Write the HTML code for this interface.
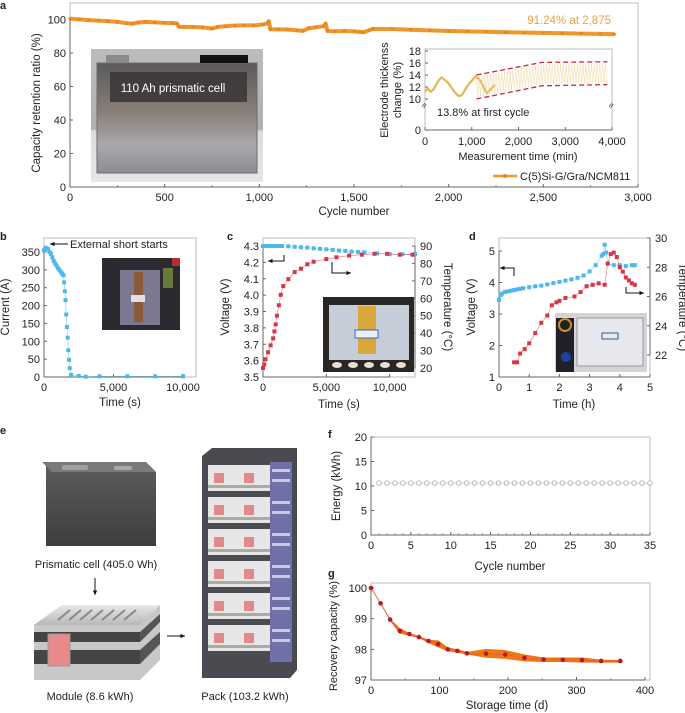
<!DOCTYPE html>
<html><head><meta charset="utf-8">
<style>
html,body{margin:0;padding:0;background:#fff;}
svg{display:block;font-family:"Liberation Sans",Arial,sans-serif;fill:#222;}
</style></head>
<body>
<svg id="fig" width="685" height="713" viewBox="0 0 685 713" xmlns="http://www.w3.org/2000/svg">
<defs>
<linearGradient id="cellBody" x1="0" y1="0" x2="0" y2="1">
<stop offset="0" stop-color="#5a5a5a"/><stop offset="0.45" stop-color="#8a7f78"/><stop offset="0.75" stop-color="#a9a9ad"/><stop offset="1" stop-color="#8e8e92"/></linearGradient>
<linearGradient id="photoBg" x1="0" y1="0" x2="0" y2="1">
<stop offset="0" stop-color="#bdbdbd"/><stop offset="0.6" stop-color="#b0b0b0"/><stop offset="0.62" stop-color="#dcdcdc"/><stop offset="1" stop-color="#e6e6e6"/></linearGradient>
<linearGradient id="darkCell" x1="0" y1="0" x2="0" y2="1">
<stop offset="0" stop-color="#5c5c5c"/><stop offset="1" stop-color="#3d3d3d"/></linearGradient>
<linearGradient id="modTop" x1="0" y1="0" x2="0" y2="1">
<stop offset="0" stop-color="#e8e8e8"/><stop offset="1" stop-color="#b8b8b8"/></linearGradient>
</defs>
</svg>
<script>
// ---------- DATA ----------
// panel a: capacity retention
const cycA = [0,50,100,150,200,250,300,330,360,400,450,500,540,565,575,600,650,700,750,780,820,870,920,970,1020,1045,1050,1058,1100,1150,1200,1230,1260,1300,1340,1350,1360,1400,1450,1500,1530,1550,1580,1600,1700,1800,1900,2000,2100,2200,2300,2400,2500,2600,2700,2800,2875];
const capA = [100.5,100.1,99.6,99.3,99.0,98.6,97.8,97.5,98.2,98.6,98.3,98.0,97.9,97.6,95.6,95.6,95.5,95.3,94.6,95.6,96.0,96.4,96.5,96.5,97.0,97.8,99.0,94.2,94.1,94.0,93.5,93.2,94.8,95.4,96.0,97.6,93.1,93.0,93.1,92.9,92.6,92.4,93.6,94.4,94.3,93.9,93.5,93.1,92.9,92.7,92.4,92.2,92.0,91.8,91.6,91.4,91.24];
const aXTicks = [0,500,1000,1500,2000,2500,3000];
const aXLabels = ["0","500","1,000","1,500","2,000","2,500","3,000"];
const aYTicks = [0,20,40,60,80,100];
// panel a inset: electrode thickness
const waveT = [0,60,120,180,240,300,360,420,480,540,600,660,720,780,840,900,960,1020,1080,1140,1200,1260,1320,1380,1440,1500];
const waveV = [11.2,11.8,11.2,11.6,12.4,13.2,13.6,13.2,12.8,12.2,11.5,10.9,10.5,10.6,11.3,12.1,12.7,13.2,13.8,13.4,12.8,11.9,11.0,11.4,11.9,12.4];
const envT = [1100,2500,3900];
const envHi = [14.0,16.1,16.2];
const envLo = [10.0,12.2,12.4];
const insTicksX = [0,1000,2000,3000,4000];
const insLabelsX = ["0","1,000","2,000","3,000","4,000"];
const insTicksY = [10,12,14,16,18];
// panel b: short circuit current
const bT = [0,100,200,300,400,500,600,700,800,900,1000,1100,1200,1300,1400,1450,1500,1550,1600,1650,1700,1750,1800,1850,1950,2500,3000,4000,6000,8000,10000];
const bI = [355,362,360,358,350,345,335,325,318,312,305,300,295,290,285,265,240,215,175,140,110,75,48,25,6,3,1,2,2,2,2];
const bYTicks = [0,50,100,150,200,250,300,350];
const bXTicks = [0,5000,10000];
const bXLabels = ["0","5,000","10,000"];
// panel c: voltage & temperature vs time
const cVT = [0,100,200,300,400,500,600,700,800,900,1000,1100,1200,1300,1400,1500,2000,2500,3000,3500,4000,4500,5000,5500,6000,6500,7000,7500,8000,9000,10000,11000,12000];
const cV = [4.300,4.300,4.300,4.300,4.300,4.300,4.300,4.300,4.300,4.300,4.300,4.300,4.300,4.300,4.300,4.300,4.298,4.295,4.292,4.290,4.286,4.283,4.280,4.276,4.272,4.270,4.266,4.264,4.262,4.255,4.250,4.250,4.250];
const cTT = [0,100,200,400,600,800,900,1000,1100,1250,1400,1600,2000,2500,3000,3500,4000,5000,5800,6800,7800,8800,9800,10800,11800];
const cTemp = [20,22,25,29,33,37,41,45,50,56,62,67,71,75,77,79.5,81,82.5,83.5,84.5,85,85.5,85.5,85,85];
const cVTicks = [3.5,3.6,3.7,3.8,3.9,4.0,4.1,4.2,4.3];
const cTTicks = [20,30,40,50,60,70,80,90];
const cXTicks = [0,5000,10000];
const cXLabels = ["0","5,000","10,000"];
// panel d: nail / overcharge test
const dVT = [0,0.05,0.1,0.2,0.3,0.4,0.5,0.6,0.7,0.8,1.0,1.2,1.4,1.6,1.8,2.0,2.2,2.4,2.6,2.8,3.0,3.2,3.4,3.45,3.5,3.55,3.6,3.8,4.0,4.2,4.4,4.5];
const dV = [3.45,3.6,3.65,3.7,3.72,3.74,3.76,3.78,3.8,3.82,3.85,3.88,3.9,3.94,3.98,4.02,4.06,4.1,4.15,4.22,4.35,4.55,4.85,4.9,5.2,4.95,4.6,4.55,4.55,4.52,4.55,4.55];
const dTT = [0.5,0.6,0.7,0.85,1.0,1.2,1.4,1.6,1.75,1.9,2.0,2.2,2.5,2.7,2.9,3.1,3.3,3.5,3.6,3.7,3.8,3.9,4.0,4.1,4.2,4.3,4.4,4.5];
const dTemp = [21.5,21.5,22.1,22.4,22.8,23.5,24.2,24.7,25.4,25.6,25.7,25.9,26.0,26.3,26.7,26.8,26.9,26.8,28.25,28.9,29.0,28.7,28.0,27.7,27.3,27.1,26.9,26.8];
const dVTicks = [1,2,3,4,5];
const dTTicks = [22,24,26,28,30];
const dXTicks = [0,1,2,3,4,5];
// panel f: pack energy
const fCycle = [1,2,3,4,5,6,7,8,9,10,11,12,13,14,15,16,17,18,19,20,21,22,23,24,25,26,27,28,29,30,31,32,33,34,35];
const fEnergy = [10.6,10.6,10.6,10.6,10.6,10.6,10.6,10.6,10.6,10.6,10.6,10.6,10.6,10.6,10.6,10.6,10.6,10.6,10.6,10.6,10.6,10.6,10.6,10.6,10.6,10.6,10.6,10.6,10.6,10.6,10.6,10.6,10.6,10.6,10.6];
const fYTicks = [0,5,10,15,20];
const fXTicks = [0,5,10,15,20,25,30,35];
// panel g: recovery capacity
const gDays = [0,14,28,42,56,70,84,98,112,126,140,168,196,224,252,280,308,336,364];
const gCap = [100,99.5,98.97,98.6,98.5,98.4,98.27,98.17,98.0,97.95,97.87,97.86,97.83,97.72,97.67,97.66,97.65,97.62,97.62];
const gHi = [100,99.5,98.97,98.68,98.52,98.42,98.3,98.28,98.05,97.99,97.9,98.0,97.96,97.82,97.72,97.72,97.72,97.65,97.64];
const gLo = [100,99.5,98.95,98.52,98.46,98.38,98.22,98.08,97.95,97.9,97.85,97.74,97.7,97.62,97.6,97.6,97.58,97.58,97.58];
const gYTicks = [97,98,99,100];
const gXTicks = [0,100,200,300,400];

// ---------- HELPERS ----------
const NS = "http://www.w3.org/2000/svg";
const svg = document.getElementById("fig");
function el(tag, attrs, parent){
  const e = document.createElementNS(NS, tag);
  for (const k in attrs) e.setAttribute(k, attrs[k]);
  (parent || svg).appendChild(e);
  return e;
}
function lin(d0,d1,r0,r1){ return v => r0 + (v-d0)/(d1-d0)*(r1-r0); }
function txt(x,y,s,size,anchor,parent,extra){
  const t = el("text",{x:x,y:y,"font-size":size,"text-anchor":anchor||"start"},parent);
  if (extra) for (const k in extra) t.setAttribute(k, extra[k]);
  t.textContent = s;
  return t;
}
function group(name){
  const g = el("g",{});
  
  
  return g;
}
function frame(g, x0,y0,x1,y1){
  const r = el("rect",{x:x0,y:y0,width:x1-x0,height:y1-y0,fill:"none",stroke:"#bcbcbc","stroke-width":1},g);
  
  
  return r;
}
function xAxis(g, ticks, labels, sx, yb, size){
  const ax = el("g",{},g);
  
  
  el("line",{x1:sx(ticks[0]),y1:yb,x2:sx(ticks[ticks.length-1]),y2:yb,stroke:"#666","stroke-width":1},ax);
  ticks.forEach((t,i)=>{
    el("line",{x1:sx(t),y1:yb,x2:sx(t),y2:yb-3,stroke:"#666"},ax);
    const lb = txt(sx(t), yb+14, labels ? labels[i] : String(t), size||11, "middle", ax);
    
    
  });
}
function yAxis(g, ticks, sy, xl, side, size, fmt){
  const ax = el("g",{},g);
  
  
  el("line",{x1:xl,y1:sy(ticks[0]),x2:xl,y2:sy(ticks[ticks.length-1]),stroke:"#666"},ax);
  ticks.forEach(t=>{
    const dir = side==="right" ? -3 : 3;
    el("line",{x1:xl,y1:sy(t),x2:xl+dir,y2:sy(t),stroke:"#666"},ax);
    const lb = txt(side==="right" ? xl+5 : xl-4, sy(t)+4, fmt ? fmt(t) : String(t), size||11, side==="right"?"start":"end", ax);
    
    
  });
}
function vtitle(g, x, y, s, size, name){
  const t = txt(x, y, s, size||11.5, "middle", g, {transform:`rotate(-90 ${x} ${y})`});
  
  
  return t;
}
function vtitleR(g, x, y, s, size, name){
  const t = txt(x, y, s, size||11.5, "middle", g, {transform:`rotate(90 ${x} ${y})`});
  
  
  return t;
}
function panelLabel(x,y,s){
  const t = txt(x,y,s,11,"start",svg,{"font-weight":"bold"});
  
  
}
function squares(g, xs, ys, sx, sy, color, sz, name){
  const pts = xs.map((x,i)=>sx(x)+","+sy(ys[i])).join(" ");
  const ln = el("polyline",{points:pts,fill:"none",stroke:color,"stroke-width":0.6,opacity:0.7},g);
  
  
  xs.forEach((x,i)=>{
    const r = el("rect",{x:sx(x)-sz/2,y:sy(ys[i])-sz/2,width:sz,height:sz,fill:color},g);
    
    
  });
}
function arrow(g, pts, name){
  const p = el("polyline",{points:pts.map(q=>q.join(",")).join(" "),fill:"none",stroke:"#111","stroke-width":1},g);
  
  
  const a = pts[pts.length-1], b = pts[pts.length-2];
  const ang = Math.atan2(a[1]-b[1], a[0]-b[0]);
  const h = 5;
  const tri = [[a[0],a[1]],[a[0]-h*Math.cos(ang-0.45),a[1]-h*Math.sin(ang-0.45)],[a[0]-h*Math.cos(ang+0.45),a[1]-h*Math.sin(ang+0.45)]];
  const hd = el("polygon",{points:tri.map(q=>q.join(",")).join(" "),fill:"#111"},g);
  
  
}

// ---------- PANEL A ----------
panelLabel(0,9,"a");
(function(){
  const g = group('panel-a-capacity-chart');
  const sx = lin(0,3000,70,638), sy = lin(0,100,187,19.5);
  frame(g,70,3,638,187);
  for (let c=250;c<3000;c+=500){ el("line",{x1:sx(c),y1:187,x2:sx(c),y2:185,stroke:"#888"},g); }
  xAxis(g, aXTicks, aXLabels, sx, 187, 11);
  yAxis(g, aYTicks, sy, 70, "left", 11);
  vtitle(g, 40, 103, "Capacity retention ratio (%)", 11.5, 'y-axis-title');
  const xt = txt(354, 215, "Cycle number", 11.5, "middle", g);
  
  
  // photo
  const ph = group('cell-photo');
  g.appendChild(ph);
  el("rect",{x:91,y:49,width:172,height:133,fill:"url(#photoBg)"},ph);
  el("rect",{x:97,y:63,width:160,height:110,fill:"url(#cellBody)",stroke:"#6c6c6c"},ph);
  el("rect",{x:106,y:55,width:23,height:8,fill:"#8a8a8a"},ph);
  el("rect",{x:200,y:55,width:48,height:8,fill:"#111"},ph);
  el("rect",{x:110,y:72,width:137,height:30,fill:"#3a3535",opacity:0.85},ph);
  const pt = txt(173,92,"110 Ah prismatic cell",11.5,"middle",ph,{fill:"#ffffff"});
  
  
  // series
  const pts = cycA.map((c,i)=>sx(c)+","+sy(capA[i])).join(" ");
  const ln = el("polyline",{points:pts,fill:"none",stroke:"#f0962a","stroke-width":4,"stroke-linejoin":"round"},g);
  
  
  cycA.forEach((c,i)=>{
    const d = el("circle",{cx:sx(c),cy:sy(capA[i]),r:1.6,fill:"#e8861c"},g);
    
    
  });
  const ann = txt(611,24,"91.24% at 2,875",11.5,"end",g,{fill:"#f0a040"});
  
  
  // inset
  const ins = group('thickness-inset');
  g.appendChild(ins);
  const ix = lin(0,4000,425,612);
  const iy = v => v>=10 ? 99 - (v-10)*6 : 130 - v*3.1;
  el("rect",{x:425,y:49,width:187,height:81,fill:"#fff",stroke:"#bcbcbc"},ins);
  el("line",{x1:425,y1:130,x2:612,y2:130,stroke:"#666"},ins);
  insTicksX.forEach((t,i)=>{
    el("line",{x1:ix(t),y1:130,x2:ix(t),y2:127,stroke:"#666"},ins);
    const lb = txt(ix(t),145,insLabelsX[i],11,"middle",ins);
    
    
  });
  insTicksY.concat([0]).forEach(t=>{
    el("line",{x1:425,y1:iy(t),x2:428,y2:iy(t),stroke:"#666"},ins);
    const lb = txt(421,iy(t)+4,String(t),11,"end",ins);
    
    
  });
  txt(425,108,"≈",9,"middle",ins,{transform:"rotate(-60 425 106)"});
  txt(612,108,"≈",9,"middle",ins,{transform:"rotate(-60 612 106)"});
  const ixt = txt(518,160,"Measurement time (min)",11,"middle",ins);
  
  
  vtitle(ins, 388, 90, "Electrode thickenss", 11, 'inset-y-axis-title');
  vtitle(ins, 401, 90, "change (%)", 11, 'inset-y-axis-title-2');
  const wv = waveT.map((t,i)=>ix(t)+","+iy(waveV[i])).join(" ");
  const wl = el("polyline",{points:wv,fill:"none",stroke:"#e4b655","stroke-width":2.2,"stroke-linejoin":"round"},ins);
  
  
  function env(arrT, arrV, t){ for(let k=0;k<arrT.length-1;k++){ if(t<=arrT[k+1]) return arrV[k]+(arrV[k+1]-arrV[k])*(t-arrT[k])/(arrT[k+1]-arrT[k]); } return arrV[arrV.length-1]; }
  let osc = [];
  let up = true;
  for (let t=envT[0]; t<=envT[envT.length-1]; t+=30){ osc.push(ix(t)+","+iy(up?env(envT,envHi,t)-0.3:env(envT,envLo,t)+0.3)); up=!up; }
  const ol = el("polyline",{points:osc.join(" "),fill:"none",stroke:"#f2d49a","stroke-width":0.5,opacity:0.9},ins);
  
  
  const eh = el("polyline",{points:envT.map((t,i)=>ix(t)+","+iy(envHi[i])).join(" "),fill:"none",stroke:"#c8283a","stroke-width":1.3,"stroke-dasharray":"5,3"},ins);
  
  
  const elo = el("polyline",{points:envT.map((t,i)=>ix(t)+","+iy(envLo[i])).join(" "),fill:"none",stroke:"#c8283a","stroke-width":1.3,"stroke-dasharray":"5,3"},ins);
  
  
  const it = txt(437,116,"13.8% at first cycle",11,"start",ins);
  
  
  const lg = group('legend');
  g.appendChild(lg);
  el("line",{x1:493,y1:176,x2:517,y2:176,stroke:"#f0962a","stroke-width":2.5},lg);
  el("circle",{cx:505,cy:176,r:2,fill:"#e8861c"},lg);
  const lt = txt(520,180,"C(5)Si-G/Gra/NCM811",11,"start",lg);
  
  
})();

// ---------- PANEL B ----------
panelLabel(0,240,"b");
(function(){
  const g = group('panel-b-current-chart');
  const sx = lin(0,10000,44,183), sy = lin(0,350,377,252);
  frame(g,44,238,196,377);
  xAxis(g,bXTicks,bXLabels,sx,377,11);
  yAxis(g,bYTicks,sy,44,"left",11);
  vtitle(g,9,307,"Current (A)",11.5,'y-axis-title');
  const xt = txt(120,406,"Time (s)",11.5,"middle",g);
  
  
  const ph = group('short-test-photo'); g.appendChild(ph);
  el("rect",{x:102,y:258,width:78,height:72,fill:"#2c2a30"},ph);
  el("rect",{x:120,y:270,width:40,height:55,fill:"#7c7890"},ph);
  el("rect",{x:134,y:272,width:9,height:50,fill:"#8a5a3a"},ph);
  el("rect",{x:131,y:295,width:14,height:7,fill:"#e0e0ea"},ph);
  el("rect",{x:163,y:268,width:10,height:20,fill:"#6a7a3a"},ph);
  el("rect",{x:172,y:258,width:8,height:8,fill:"#b03030"},ph);
  squares(g,bT,bI,sx,sy,"#4fb8ea",4,'current');
  arrow(g,[[68,244],[50,244]],'short-start-arrow');
  const an = txt(70,248,"External short starts",11,"start",g);
  
  
})();

// ---------- PANEL C ----------
panelLabel(227,240,"c");
(function(){
  const g = group('panel-c-voltage-temperature-chart');
  const sx = lin(0,12000,263,415), sy = lin(3.5,4.3,377,246), st = lin(20,90,368,246);
  frame(g,263,238,415,377);
  xAxis(g,cXTicks,cXLabels,sx,377,11);
  yAxis(g,cVTicks,sy,263,"left",11,v=>v.toFixed(1));
  yAxis(g,cTTicks,st,415,"right",11);
  vtitle(g,229,307,"Voltage (V)",11.5,'y-axis-title');
  vtitleR(g,444,307,"Temperature (°C)",11.5,'y-axis-right-title');
  const xt = txt(339,408,"Time (s)",11.5,"middle",g);
  
  
  const ph = group('heat-test-photo'); g.appendChild(ph);
  el("rect",{x:323,y:297,width:91,height:75,fill:"#2a2624"},ph);
  el("rect",{x:329,y:305,width:80,height:55,fill:"#c6ccd8"},ph);
  el("rect",{x:358,y:306,width:18,height:48,fill:"#d8a83a"},ph);
  el("rect",{x:355,y:330,width:23,height:8,fill:"#eaf0fa",stroke:"#3a6ab0"},ph);
  for(let i=0;i<5;i++){ el("ellipse",{cx:337+i*16,cy:365,rx:5,ry:3,fill:"#e8e0d0"},ph); }
  squares(g,cVT,cV,sx,sy,"#4fb8ea",4,'voltage');
  squares(g,cTT,cTemp,sx,st,"#d8344a",4,'temperature');
  arrow(g,[[284,255],[284,261],[268,261]],'voltage-axis-arrow');
  arrow(g,[[332,262],[332,273],[351,273]],'temperature-axis-arrow');
})();

// ---------- PANEL D ----------
panelLabel(469,240,"d");
(function(){
  const g = group('panel-d-voltage-temperature-chart');
  const sx = lin(0,5,499,650), sy = lin(1,5,377,251), st = lin(22,30,355,238);
  frame(g,499,238,650,377);
  xAxis(g,dXTicks,null,sx,377,11);
  yAxis(g,dVTicks,sy,499,"left",11);
  yAxis(g,dTTicks,st,650,"right",11);
  vtitle(g,475,307,"Voltage (V)",11.5,'y-axis-title');
  vtitleR(g,679,307,"Temperature (°C)",11.5,'y-axis-right-title');
  const xt = txt(574,408,"Time (h)",11.5,"middle",g);
  
  
  const ph = group('nail-test-photo'); g.appendChild(ph);
  el("rect",{x:555,y:313,width:92,height:59,fill:"#d4d4d8"},ph);
  el("rect",{x:556,y:318,width:18,height:54,fill:"#202028"},ph);
  el("circle",{cx:565,cy:325,r:6,fill:"none",stroke:"#c89030","stroke-width":2},ph);
  el("circle",{cx:566,cy:357,r:5,fill:"#2040a0"},ph);
  el("rect",{x:577,y:318,width:66,height:48,fill:"#e6e8ee",stroke:"#999"},ph);
  el("rect",{x:602,y:333,width:16,height:6,fill:"none",stroke:"#3a5a90"},ph);
  squares(g,dVT,dV,sx,sy,"#4fb8ea",4,'voltage');
  squares(g,dTT,dTemp,sx,st,"#d8344a",4,'temperature');
  arrow(g,[[514,276],[514,268],[500,268]],'voltage-axis-arrow');
  arrow(g,[[626,287],[626,293],[644,293]],'temperature-axis-arrow');
})();

// ---------- PANEL E ----------
panelLabel(0,434,"e");
(function(){
  const g = group('panel-e-cell-module-pack');
  const c = group('prismatic-cell-illustration'); g.appendChild(c);
  el("path",{d:"M46 466 L150 466 L156 472 L156 546 L46 546 Z",fill:"url(#darkCell)"},c);
  el("path",{d:"M42 462 L146 462 L156 472 L52 472 Z",fill:"#7a7a7a"},c);
  el("rect",{x:62,y:465,width:26,height:5,rx:2,fill:"#a0a0a0"},c);
  el("rect",{x:114,y:466,width:18,height:4,rx:2,fill:"#a8a8a8"},c);
  const t1 = txt(96,568,"Prismatic cell (405.0 Wh)",11,"middle",g);
  
  
  arrow(g,[[95,578],[95,595]],'cell-to-module-arrow');
  const m = group('module-illustration'); g.appendChild(m);
  el("path",{d:"M34 625 L62 605 L160 605 L160 660 L140 680 L34 680 Z",fill:"#c8c8c8"},m);
  el("path",{d:"M34 625 L62 605 L160 605 L140 625 Z",fill:"url(#modTop)"},m);
  for(let i=0;i<7;i++){ el("line",{x1:70+i*11,y1:610,x2:58+i*11,y2:620,stroke:"#888","stroke-width":2},m); }
  el("rect",{x:34,y:632,width:106,height:10,fill:"#444"},m);
  el("rect",{x:34,y:650,width:106,height:14,fill:"#444"},m);
  el("path",{d:"M140 632 L160 614 L160 622 L140 642 Z",fill:"#555"},m);
  el("path",{d:"M140 650 L160 632 L160 644 L140 664 Z",fill:"#555"},m);
  el("rect",{x:48,y:634,width:22,height:32,fill:"#e88a8a",stroke:"#999"},m);
  const t2 = txt(90,700,"Module (8.6 kWh)",11,"middle",g);
  
  
  arrow(g,[[167,636],[185,636]],'module-to-pack-arrow');
  const p = group('pack-rack-illustration'); g.appendChild(p);
  el("path",{d:"M202 456 L212 448 L297 448 L297 670 L290 678 L202 678 Z",fill:"#4a4a50"},p);
  el("rect",{x:270,y:462,width:22,height:200,fill:"#7070a8"},p);
  for(let i=0;i<6;i++){
    const y = 465+i*32;
    el("rect",{x:208,y:y,width:62,height:26,fill:"#e6e6e6"},p);
    el("rect",{x:208,y:y+20,width:62,height:3,fill:"#aaa"},p);
    el("rect",{x:214,y:y+8,width:10,height:10,fill:"#e08a8a"},p);
    el("rect",{x:244,y:y+8,width:10,height:10,fill:"#e08a8a"},p);
    el("rect",{x:272,y:y+4,width:18,height:3,fill:"#c8c8e8"},p);
    el("rect",{x:272,y:y+14,width:18,height:3,fill:"#c8c8e8"},p);
  }
  const t3 = txt(245,700,"Pack (103.2 kWh)",11,"middle",g);
  
  
})();

// ---------- PANEL F ----------
panelLabel(328,438,"f");
(function(){
  const g = group('panel-f-energy-chart');
  const sx = lin(0,35,371,650), sy = lin(0,20,535,437);
  frame(g,371,437,650,535);
  for(let c=1;c<35;c++){ el("line",{x1:sx(c),y1:535,x2:sx(c),y2:533,stroke:"#999"},g); }
  xAxis(g,fXTicks,null,sx,535,11);
  yAxis(g,fYTicks,sy,371,"left",11);
  vtitle(g,340,486,"Energy (kWh)",11.5,'y-axis-title');
  const xt = txt(510,570,"Cycle number",11.5,"middle",g);
  
  
  const ln = el("polyline",{points:fCycle.map((c,i)=>sx(c)+","+sy(fEnergy[i])).join(" "),fill:"none",stroke:"#bbb","stroke-width":0.6},g);
  
  
  fCycle.forEach((c,i)=>{
    const d = el("circle",{cx:sx(c),cy:sy(fEnergy[i]),r:2.3,fill:"#fff",stroke:"#aaa","stroke-width":0.8},g);
    
    
  });
})();

// ---------- PANEL G ----------
panelLabel(328,577,"g");
(function(){
  const g = group('panel-g-recovery-chart');
  const sx = lin(0,400,371,645), sy = lin(97,100,680,588);
  frame(g,371,583,650,680);
  [50,150,250,350].forEach(d=>el("line",{x1:sx(d),y1:680,x2:sx(d),y2:678,stroke:"#999"},g));
  xAxis(g,gXTicks,null,sx,680,11);
  yAxis(g,gYTicks,sy,371,"left",11);
  vtitle(g,337,636,"Recovery capacity (%)",11,'y-axis-title');
  const xt = txt(507,709,"Storage time (d)",11.5,"middle",g);
  
  
  const up = gDays.map((d,i)=>sx(d)+","+sy(gHi[i]));
  const lo = gDays.map((d,i)=>sx(d)+","+sy(gLo[i])).reverse();
  const band = el("polygon",{points:up.concat(lo).join(" "),fill:"#f07a10",stroke:"#e87010","stroke-width":0.8},g);
  
  
  const ln = el("polyline",{points:gDays.map((d,i)=>sx(d)+","+sy(gCap[i])).join(" "),fill:"none",stroke:"#e05a4a","stroke-width":0.7},g);
  
  
  gDays.forEach((d,i)=>{
    const c = el("circle",{cx:sx(d),cy:sy(gCap[i]),r:2.3,fill:"#b8182a"},g);
    
    
  });
})();
</script>
</body></html>
